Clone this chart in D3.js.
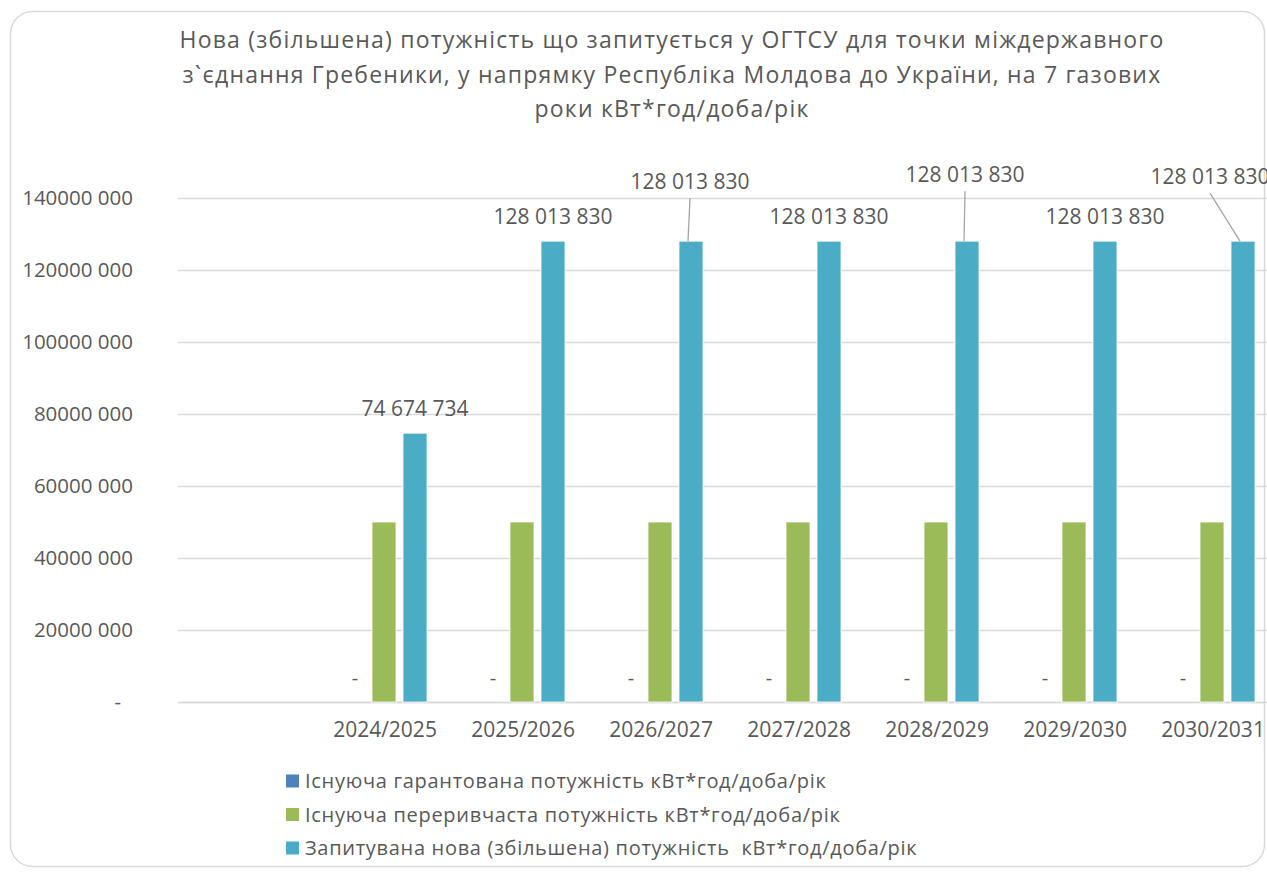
<!DOCTYPE html>
<html>
<head>
<meta charset="utf-8">
<script src="https://cdn.jsdelivr.net/npm/d3@7"></script>
<style>
  body { margin: 0; background: #fff; }
  svg { display: block; font-family: "Open Sans", sans-serif; }
</style>
</head>
<body>
<div id="chart"></div>
<script>
// categories (first slot is empty in the original chart)
const categories = ['', '2024/2025', '2025/2026', '2026/2027', '2027/2028', '2028/2029', '2029/2030', '2030/2031'];

const seriesNames = [
  'Існуюча гарантована потужність кВт*год/доба/рік',
  'Існуюча переривчаста потужність кВт*год/доба/рік',
  'Запитувана нова (збільшена) потужність  кВт*год/доба/рік',
];

// values per category, same order as categories
const guaranteed = [null, 0, 0, 0, 0, 0, 0, 0];
const interruptible = [null, 50000000, 50000000, 50000000, 50000000, 50000000, 50000000, 50000000];
const requested = [null, 74674734, 128013830, 128013830, 128013830, 128013830, 128013830, 128013830];

const yTicks = [0, 20000000, 40000000, 60000000, 80000000, 100000000, 120000000, 140000000];
const yTickLabels = ['-', '20000 000', '40000 000', '60000 000', '80000 000', '100000 000', '120000 000', '140000 000'];

const titleLines = [
  'Нова (збільшена) потужність що запитується у ОГТСУ для точки міждержавного',
  'з`єднання Гребеники, у напрямку Республіка Молдова до України, на 7 газових',
  'роки кВт*год/доба/рік',
];

const colors = ['#4f81bd', '#9bbb59', '#4bacc6'];
const textColor = '#595959';

// some labels of the last series are moved up with a leader line
const labelNudge = {
  '2026/2027': { dx: -1, dy: -35 },
  '2028/2029': { dx: -2, dy: -42 },
  '2030/2031': { dx: -33, dy: -40 },
};

const width = 1267;
const height = 876;
const plot = { left: 178, right: 1282, top: 198, bottom: 702 };

const svg = d3.select('#chart')
  .append('svg')
  .attr('width', width)
  .attr('height', height);

// chart card
svg.append('rect')
  .attr('x', 10.5)
  .attr('y', 11.5)
  .attr('width', 1254)
  .attr('height', 855)
  .attr('rx', 22)
  .attr('fill', '#fff')
  .attr('stroke', '#d9d9d9')
  .attr('stroke-width', 1.5);

// title
svg.append('g')
  .selectAll('text')
  .data(titleLines)
  .enter()
  .append('text')
  .attr('x', 672)
  .attr('y', (d, i) => 48 + i * 34.5)
  .attr('text-anchor', 'middle')
  .attr('font-size', 23)
  .attr('letter-spacing', 1.2)
  .attr('fill', textColor)
  .text(d => d);

const x = d3.scaleBand()
  .domain(categories)
  .range([plot.left, plot.right])
  .paddingInner(0)
  .paddingOuter(0);

const xSeries = d3.scaleBand()
  .domain(d3.range(seriesNames.length))
  .range([25, 111])
  .paddingInner(7 / 31)
  .paddingOuter(0);

const y = d3.scaleLinear()
  .domain([0, 140000000])
  .range([plot.bottom, plot.top]);

// gridlines + y labels
const yAxis = d3.axisLeft(y)
  .tickValues(yTicks)
  .tickSize(-(plot.right - plot.left))
  .tickPadding(45)
  .tickFormat((d, i) => yTickLabels[i]);

const gy = svg.append('g')
  .attr('transform', `translate(${plot.left},0)`)
  .call(yAxis);
gy.select('.domain').remove();
gy.selectAll('.tick line').attr('stroke', '#d9d9d9').attr('stroke-width', 1.3);
gy.selectAll('.tick text')
  .attr('fill', textColor)
  .attr('font-size', 20.5)
  .attr('font-family', '"Open Sans", sans-serif')
  .attr('dx', d => (d === 0 ? -12 : 0));

// x labels
const xAxis = d3.axisBottom(x).tickSize(0).tickPadding(20);
const gx = svg.append('g')
  .attr('transform', `translate(0,${plot.bottom})`)
  .call(xAxis);
gx.select('.domain').attr('stroke', '#d9d9d9').attr('stroke-width', 1.3);
gx.selectAll('.tick text')
  .attr('fill', textColor)
  .attr('font-size', 21)
  .attr('font-family', '"Open Sans", sans-serif');

// bars
const seriesData = [guaranteed, interruptible, requested];
const rows = [];
seriesData.forEach((values, s) => {
  values.forEach((v, i) => {
    if (v !== null) rows.push({ s, cat: categories[i], value: v });
  });
});

svg.append('g')
  .selectAll('rect')
  .data(rows.filter(d => d.value > 0))
  .enter()
  .append('rect')
  .attr('x', d => x(d.cat) + xSeries(d.s))
  .attr('width', xSeries.bandwidth())
  .attr('y', d => y(d.value))
  .attr('height', d => y(0) - y(d.value))
  .attr('fill', d => colors[d.s])
  .attr('stroke', '#fff')
  .attr('stroke-width', 0.8);

// value labels: zeros as "-" for the first series, values for the last series
const fmt = v => d3.format(',')(v).replace(/,/g, ' ');

const zeroLabels = rows.filter(d => d.s === 0);
svg.append('g')
  .selectAll('text')
  .data(zeroLabels)
  .enter()
  .append('text')
  .attr('x', d => x(d.cat) + xSeries(d.s) + xSeries.bandwidth() / 2 + 2)
  .attr('y', d => y(d.value) - 17)
  .attr('text-anchor', 'middle')
  .attr('font-size', 20)
  .attr('fill', textColor)
  .text('-');

const valueLabels = rows.filter(d => d.s === 2);
const lg = svg.append('g');
valueLabels.forEach(d => {
  const cx = x(d.cat) + xSeries(d.s) + xSeries.bandwidth() / 2;
  const top = y(d.value);
  const n = labelNudge[d.cat] || { dx: 0, dy: 0 };
  const tx = cx + n.dx;
  const ty = top - 17 + n.dy;
  if (labelNudge[d.cat]) {
    lg.append('line')
      .attr('x1', tx)
      .attr('y1', ty + 9)
      .attr('x2', cx - 3)
      .attr('y2', top)
      .attr('stroke', '#a6a6a6')
      .attr('stroke-width', 1.3);
  }
  lg.append('text')
    .attr('x', tx)
    .attr('y', ty)
    .attr('text-anchor', 'middle')
    .attr('font-size', 21)
    .attr('fill', textColor)
    .text(fmt(d.value));
});

// legend
const legend = svg.append('g')
  .selectAll('g')
  .data(seriesNames)
  .enter()
  .append('g')
  .attr('transform', (d, i) => `translate(286,${781 + i * 33.5})`);

legend.append('rect')
  .attr('x', 0)
  .attr('y', -6.5)
  .attr('width', 13)
  .attr('height', 13)
  .attr('fill', (d, i) => colors[i]);

legend.append('text')
  .attr('x', 19)
  .attr('y', 7)
  .attr('font-size', 20)
  .attr('letter-spacing', 0.7)
  .style('white-space', 'pre')
  .attr('fill', textColor)
  .text(d => d);
</script>
</body>
</html>
